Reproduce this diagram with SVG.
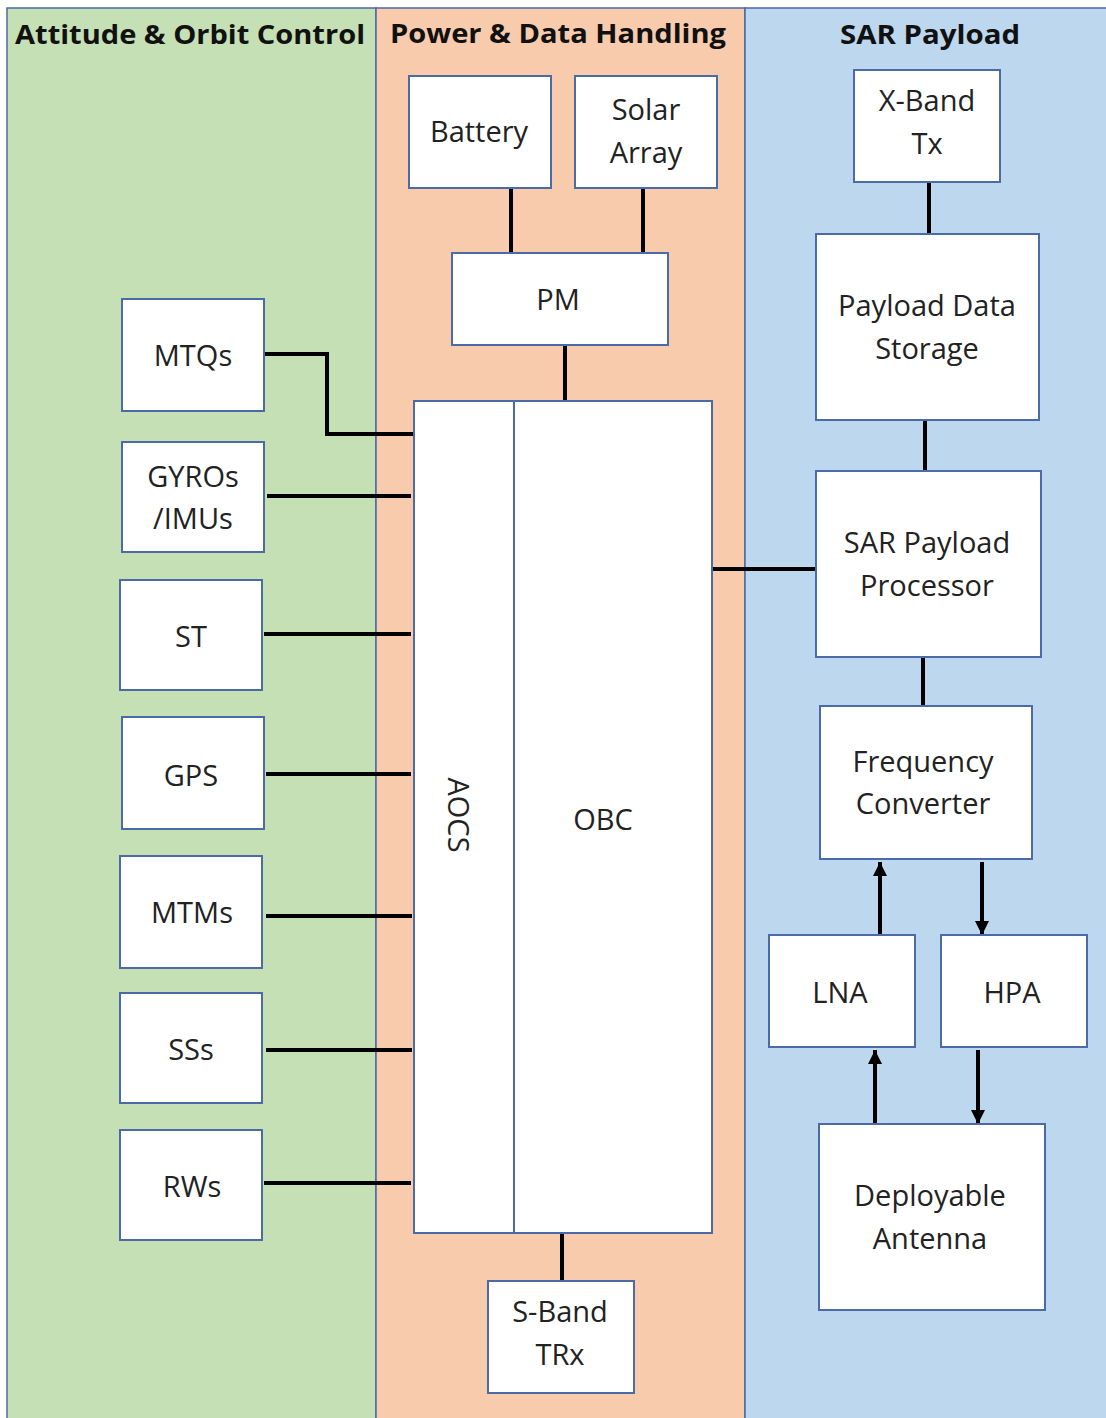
<svg xmlns="http://www.w3.org/2000/svg" width="1106" height="1418" viewBox="0 0 1106 1418">
<style>
.lane{stroke:#4a6aa8;stroke-width:1.5}
.hdr{font-family:"Open Sans","Noto Sans",sans-serif;font-weight:bold;font-size:27px;fill:#111;text-anchor:middle}
.box{fill:#fff;stroke:#4a6aa8;stroke-width:2}
.t{font-family:"Open Sans","Noto Sans",sans-serif;font-size:29px;fill:#222;text-anchor:middle}
.c{stroke:#000;stroke-width:4;fill:none}
</style>
<defs>
<marker id="ah" viewBox="0 0 10 10" refX="10" refY="5" markerWidth="14" markerHeight="14" markerUnits="userSpaceOnUse" orient="auto">
<path d="M0,0 L10,5 L0,10 z" fill="#000"/>
</marker>
</defs>
<rect width="1106" height="1418" fill="#fff"/>
<g id="lanes">
<rect class="lane" x="7" y="8" width="369" height="1412" fill="#c5e0b4"/>
<rect class="lane" x="376" y="8" width="369" height="1412" fill="#f8cbad"/>
<rect class="lane" x="745" y="8" width="363" height="1412" fill="#bdd7ee"/>
<text class="hdr" x="190" y="44" textLength="350" lengthAdjust="spacingAndGlyphs">Attitude &amp; Orbit Control</text>
<text class="hdr" x="558" y="43" textLength="336" lengthAdjust="spacingAndGlyphs">Power &amp; Data Handling</text>
<text class="hdr" x="930" y="44" textLength="180" lengthAdjust="spacingAndGlyphs">SAR Payload</text>
</g>
<g id="connectors">
<path class="c" d="M511,188 V253"/>
<path class="c" d="M643,188 V253"/>
<path class="c" d="M565,345 V401"/>
<path class="c" d="M562,1233 V1281"/>
<path class="c" d="M264,354 H327 V434 H414"/>
<path class="c" d="M267,496 H411"/>
<path class="c" d="M264,634 H411"/>
<path class="c" d="M266,774 H411"/>
<path class="c" d="M266,916 H412"/>
<path class="c" d="M266,1050 H412"/>
<path class="c" d="M264,1183 H411"/>
<path class="c" d="M712,569 H816"/>
<path class="c" d="M929,182 V234"/>
<path class="c" d="M925,420 V471"/>
<path class="c" d="M923,657 V706"/>
<path class="c" d="M880,935 V862" marker-end="url(#ah)"/>
<path class="c" d="M982,862 V935" marker-end="url(#ah)"/>
<path class="c" d="M875,1124 V1050" marker-end="url(#ah)"/>
<path class="c" d="M978,1050 V1124" marker-end="url(#ah)"/>
</g>
<g id="battery"><rect class="box" x="409" y="76" width="142" height="112"/><text class="t" x="479" y="142">Battery</text></g>
<g id="solar"><rect class="box" x="575" y="76" width="142" height="112"/><text class="t" x="646" y="120">Solar</text><text class="t" x="646" y="163">Array</text></g>
<g id="pm"><rect class="box" x="452" y="253" width="216" height="92"/><text class="t" x="558" y="310">PM</text></g>
<g id="obc"><rect class="box" x="414" y="401" width="298" height="832"/><line x1="514" y1="401" x2="514" y2="1233" stroke="#4a6aa8" stroke-width="2"/>
<text class="t" transform="translate(448,815) rotate(90)" font-size="35">AOCS</text>
<text class="t" x="603" y="830" font-size="35">OBC</text></g>
<g id="sband"><rect class="box" x="488" y="1281" width="146" height="112"/><text class="t" x="560" y="1322">S-Band</text><text class="t" x="560" y="1365">TRx</text></g>
<g id="mtqs"><rect class="box" x="122" y="299" width="142" height="112"/><text class="t" x="193" y="366">MTQs</text></g>
<g id="gyros"><rect class="box" x="122" y="442" width="142" height="110"/><text class="t" x="193" y="487">GYROs</text><text class="t" x="193" y="529">/IMUs</text></g>
<g id="st"><rect class="box" x="120" y="580" width="142" height="110"/><text class="t" x="191" y="647">ST</text></g>
<g id="gps"><rect class="box" x="122" y="717" width="142" height="112"/><text class="t" x="191" y="786">GPS</text></g>
<g id="mtms"><rect class="box" x="120" y="856" width="142" height="112"/><text class="t" x="192" y="923">MTMs</text></g>
<g id="sss"><rect class="box" x="120" y="993" width="142" height="110"/><text class="t" x="191" y="1060">SSs</text></g>
<g id="rws"><rect class="box" x="120" y="1130" width="142" height="110"/><text class="t" x="192" y="1197">RWs</text></g>
<g id="xband"><rect class="box" x="854" y="70" width="146" height="112"/><text class="t" x="927" y="111">X-Band</text><text class="t" x="927" y="154">Tx</text></g>
<g id="storage"><rect class="box" x="816" y="234" width="223" height="186"/><text class="t" x="927" y="316">Payload Data</text><text class="t" x="927" y="359">Storage</text></g>
<g id="sarproc"><rect class="box" x="816" y="471" width="225" height="186"/><text class="t" x="927" y="553">SAR Payload</text><text class="t" x="927" y="596">Processor</text></g>
<g id="freqconv"><rect class="box" x="820" y="706" width="212" height="153"/><text class="t" x="923" y="772">Frequency</text><text class="t" x="923" y="814">Converter</text></g>
<g id="lna"><rect class="box" x="769" y="935" width="146" height="112"/><text class="t" x="840" y="1003">LNA</text></g>
<g id="hpa"><rect class="box" x="941" y="935" width="146" height="112"/><text class="t" x="1012" y="1003">HPA</text></g>
<g id="antenna"><rect class="box" x="819" y="1124" width="226" height="186"/><text class="t" x="930" y="1206">Deployable</text><text class="t" x="930" y="1249">Antenna</text></g>
</svg>
